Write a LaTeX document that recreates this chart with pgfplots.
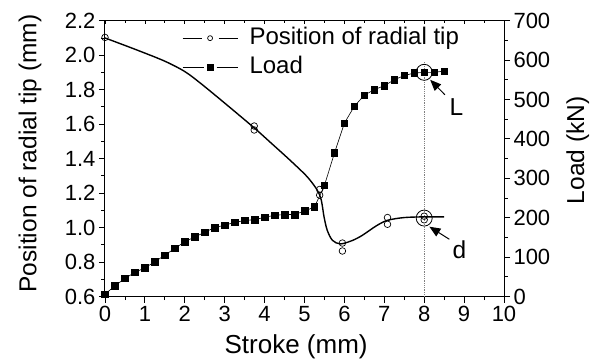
\documentclass[border=0pt]{standalone}
\usepackage{pgfplots}
\pgfplotsset{compat=1.18}
\usepackage{pgfplotstable}
\usepackage{fontspec}
\setmainfont{Liberation Sans}
\usetikzlibrary{arrows.meta}

\pgfplotstableread{
x y
0 2.10
0.8 2.03
1.5 1.965
2.0 1.905
2.4 1.836
3.0 1.722
3.74 1.578
4.15 1.493
4.65 1.388
5.07 1.294
5.32 1.217
5.42 1.16
5.49 1.062
5.57 0.984
5.70 0.926
5.9 0.905
6.2 0.925
6.45 0.955
6.8 1.01
7.08 1.042
7.5 1.058
8.0 1.062
8.5 1.062
}\curvetab

\pgfplotstableread{
x y
0 2.103
3.74 1.589
3.74 1.566
5.38 1.221
5.38 1.188
5.95 0.910
5.95 0.864
7.08 1.058
7.08 1.019
8.0 1.066
8.0 1.045
}\circtab

\pgfplotstableread{
x y
0 6
0.25 27
0.5 46
0.75 61
1.0 73
1.25 88
1.5 105
1.75 122
2.0 139
2.25 151
2.5 163
2.75 175
3.0 181
3.25 188
3.5 193
3.75 195
4.0 201
4.25 206
4.5 208
4.75 208
5.0 217
5.25 227
5.5 282
5.75 364
6.0 440
6.25 483
6.5 511
6.75 525
7.0 535
7.25 550
7.5 561
7.75 567
8.0 569
8.25 569
8.5 572
}\loadtab

\pgfplotsset{
  common/.style={
    scale only axis, width=399bp, height=275.8bp,
    xmin=0, xmax=10,
    /pgf/number format/assume math mode=true,
    tick label style={font=\fontsize{22bp}{26bp}\selectfont},
    label style={font=\fontsize{24.5bp}{29bp}\selectfont},
    major tick length=6bp, minor tick length=3.5bp,
    every tick/.style={black, line width=0.8bp},
    axis line style={line width=1bp},
  }
}

\begin{document}
\begin{tikzpicture}
% top inward ticks
\begin{axis}[common, ymin=0, ymax=1,
  axis x line*=top, axis y line=none, tick align=inside,
  xtick={0,1,...,10}, minor x tick num=1, xticklabels={},
  major tick length=3bp, minor tick length=2bp]
\end{axis}

\begin{axis}[common, ymin=0.6, ymax=2.2,
  tick align=outside,
  xtick={0,1,2,3,4,5,6,7,8,9,10}, minor x tick num=1,
  ytick={0.6,0.8,1.0,1.2,1.4,1.6,1.8,2.0,2.2}, minor y tick num=1,
  yticklabel style={/pgf/number format/.cd, fixed, fixed zerofill, precision=1},
  xtick pos=bottom, ytick pos=left,
  xlabel={Stroke (mm)}, ylabel={Position of radial tip (mm)},
  xlabel style={at={(axis description cs:0.479,-0.183)}, anchor=center, font=\fontsize{26bp}{31bp}\selectfont},
  ylabel style={at={(axis description cs:-0.188,0.518)}, anchor=center},
]
\addplot[black, line width=1.4bp, smooth, no markers] table {\curvetab};
\addplot[black, only marks, mark=o, mark size=3.3bp, mark options={line width=0.7bp}] table {\circtab};
\addplot[black, only marks, mark=o, mark size=8bp, mark options={line width=0.8bp}] coordinates {(8,1.055)};
\draw[black, line width=1bp, -{Triangle[length=11bp,width=9bp]}] (axis cs:8.63,0.932) -- (axis cs:8.13,1.005);
\node[font=\fontsize{24.5bp}{29bp}\selectfont] at (axis cs:8.88,0.87) {d};
\end{axis}

\begin{axis}[common, ymin=0, ymax=700,
  axis y line*=right, axis x line=none, tick align=outside,
  ytick={0,100,200,300,400,500,600,700}, minor y tick num=1,
  ylabel={Load (kN)},
  ylabel style={at={(axis description cs:1.185,0.53)}, anchor=center},
  legend style={at={(axis description cs:0.193,0.99)}, anchor=north west,
    draw=none, fill=none, inner sep=0pt, row sep=0pt, column sep=8bp,
    font=\fontsize{24bp}{28bp}\selectfont,
    nodes={text height=17bp, text depth=5bp, inner sep=3.5bp}},
  legend cell align=left,
]
\addlegendimage{black, mark=o, mark size=2.5bp, mark options={line width=0.7bp},
  legend image code/.code={
    \draw[line width=0.8bp] (0bp,0bp)--(19bp,0bp) (36bp,0bp)--(55bp,0bp);
    \draw[/tikz/only marks] plot coordinates {(27.5bp,0bp)};}}
\addlegendentry{Position of radial tip}
\addplot[gray, densely dotted, line width=0.8bp, forget plot] coordinates {(8,0) (8,597)};
\addplot[black, line width=0.6bp, mark=square*, mark size=3.3bp,
  legend image code/.code={
    \draw[line width=0.8bp] (0bp,0bp)--(21bp,0bp) (34bp,0bp)--(55bp,0bp);
    \draw[/tikz/only marks] plot coordinates {(27.5bp,0bp)};}] table {\loadtab};
\addlegendentry{Load}
\addplot[black, only marks, mark=o, mark size=8bp, mark options={line width=0.8bp}, forget plot] coordinates {(8,569)};
\draw[black, line width=1bp, -{Triangle[length=11bp,width=9bp]}] (axis cs:8.52,512) -- (axis cs:8.15,550);
\node[font=\fontsize{24.5bp}{29bp}\selectfont] at (axis cs:8.81,482) {L};
\end{axis}
\pgfresetboundingbox
\path[use as bounding box] (current axis.south west) ++(-105bp,-64.5bp) rectangle ++(595bp,361bp);
\end{tikzpicture}
\end{document}
